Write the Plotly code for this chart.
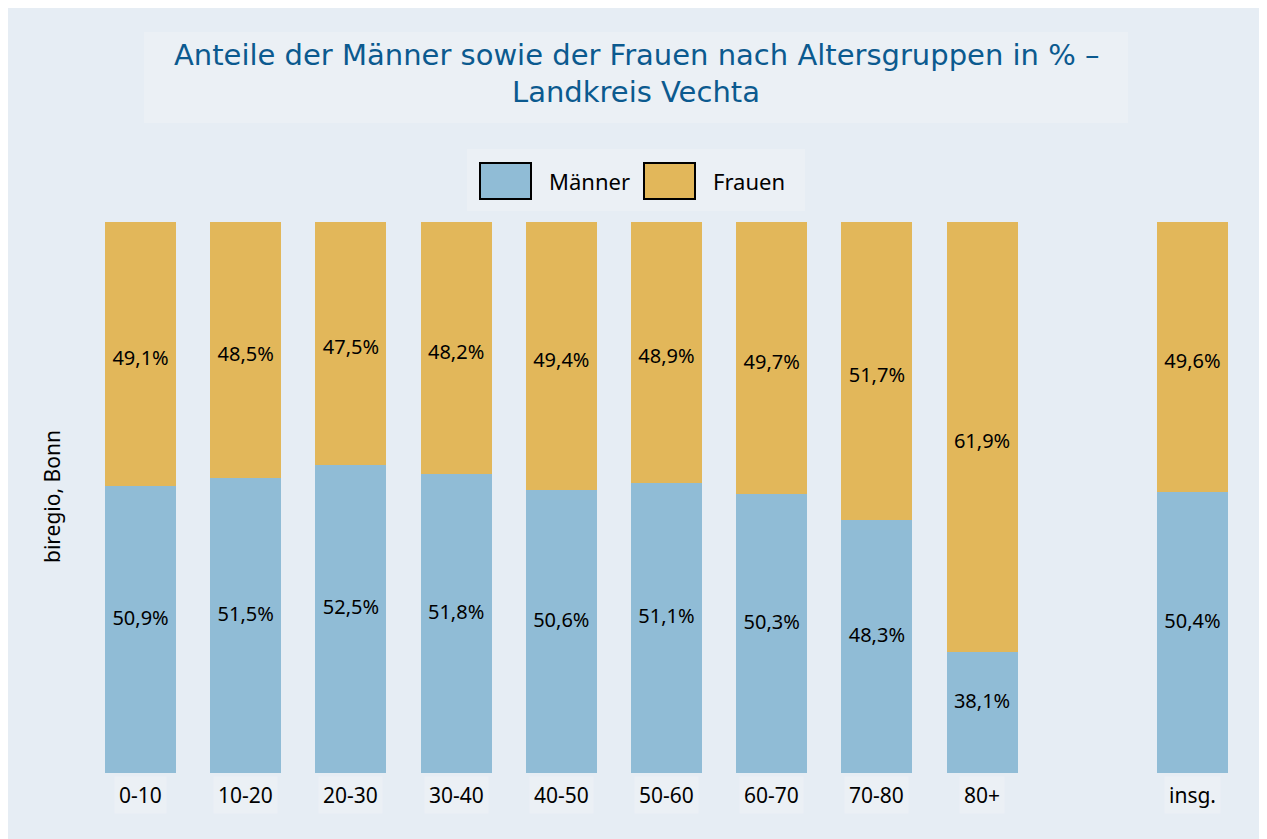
import plotly.graph_objects as go

# data
gruppen = ['0-10', '10-20', '20-30', '30-40', '40-50', '50-60', '60-70', '70-80', '80+', ' ', 'insg.']
maenner = [50.9, 51.5, 52.5, 51.8, 50.6, 51.1, 50.3, 48.3, 38.1, None, 50.4]
frauen = [49.1, 48.5, 47.5, 48.2, 49.4, 48.9, 49.7, 51.7, 61.9, None, 49.6]

y_lo, y_hi = 28.8, 71.2

blau = '#90bcd6'
gold = '#e2b75a'
hg = '#e6edf4'
box = '#ebf0f5'
font = 'Noto Sans'
tfont = 'DejaVu Sans'

W, H = 1267, 839
OFF = 8  # page margin of the html body
L, R, T, B = 80, 30, 214, 74
pw, ph = W - L - R, H - T - B


# page pixel -> paper coords
def px(x):
    return (x - OFF - L) / pw


def py(y):
    return (H - B - (y - OFF)) / ph


fig = go.Figure()
fig.add_trace(go.Bar(x=gruppen, y=maenner, name='Männer', marker=dict(color=blau, line=dict(width=0))))
fig.add_trace(go.Bar(x=gruppen, y=frauen, name='Frauen', marker=dict(color=gold, line=dict(width=0))))

# labels in the visible part of each segment
cats, ym, yf, vm, vf = [], [], [], [], []
for g, m, f in zip(gruppen, maenner, frauen):
    if m is None:
        continue
    cats.append(g)
    ym.append((y_lo + m) / 2 + 0.75)
    yf.append((m + y_hi) / 2 - 0.45)
    vm.append(m)
    vf.append(f)

fig.add_trace(go.Scatter(x=cats, y=ym, mode='text', customdata=vm, texttemplate='%{customdata:.1f}%',
                         textfont=dict(family=font, size=20, color='black'), hoverinfo='skip'))
fig.add_trace(go.Scatter(x=cats, y=yf, mode='text', customdata=vf, texttemplate='%{customdata:.1f}%',
                         textfont=dict(family=font, size=20, color='black'), hoverinfo='skip'))

shapes = [
    # title box
    dict(type='rect', xref='paper', yref='paper', x0=px(144), x1=px(1128), y0=py(123), y1=py(32),
         fillcolor=box, line=dict(width=0), layer='below'),
    # legend box
    dict(type='rect', xref='paper', yref='paper', x0=px(467), x1=px(805), y0=py(211), y1=py(149),
         fillcolor=box, line=dict(width=0), layer='below'),
    # legend swatches
    dict(type='rect', xref='paper', yref='paper', x0=px(480), x1=px(531), y0=py(199), y1=py(163),
         fillcolor=blau, line=dict(width=2, color='black')),
    dict(type='rect', xref='paper', yref='paper', x0=px(644), x1=px(695), y0=py(199), y1=py(163),
         fillcolor=gold, line=dict(width=2, color='black')),
]

annotations = [
    dict(text='Anteile der Männer sowie der Frauen nach Altersgruppen in % –', x=px(636), y=py(55),
         font=dict(family=tfont, size=29, color='#0b5a8f')),
    dict(text='Landkreis Vechta', x=px(636), y=py(92),
         font=dict(family=tfont, size=29, color='#0b5a8f')),
    dict(text='Männer', x=px(547), y=py(181), xanchor='left',
         font=dict(family=font, size=22, color='black')),
    dict(text='Frauen', x=px(711), y=py(181), xanchor='left',
         font=dict(family=font, size=22, color='black')),
    dict(text='biregio, Bonn', x=px(52), y=py(497), textangle=-90,
         font=dict(family=font, size=21, color='black')),
]
for a in annotations:
    a.update(xref='paper', yref='paper', showarrow=False)
    a.setdefault('xanchor', 'center')
    a.setdefault('yanchor', 'middle')

# category labels with light boxes
for g in gruppen:
    if g.strip() == '':
        continue
    annotations.append(dict(text=g, x=g, xref='x', y=py(795), yref='paper', showarrow=False,
                            yanchor='middle', bgcolor=box, borderpad=4,
                            font=dict(family=font, size=21, color='black')))

fig.update_layout(
    width=W, height=H,
    margin=dict(l=L, r=R, t=T, b=B),
    barmode='stack', bargap=0.325,
    separators=',.',
    showlegend=False,
    paper_bgcolor=hg,
    plot_bgcolor=hg,
    xaxis=dict(type='category', categoryorder='array', categoryarray=gruppen,
               range=[-0.5, len(gruppen) - 0.5],
               showticklabels=False, showgrid=False, zeroline=False, showline=False, ticks=''),
    yaxis=dict(range=[y_lo, y_hi], showticklabels=False, showgrid=False, zeroline=False,
               showline=False, ticks=''),
    shapes=shapes,
    annotations=annotations,
)

fig.write_html('out.html')
